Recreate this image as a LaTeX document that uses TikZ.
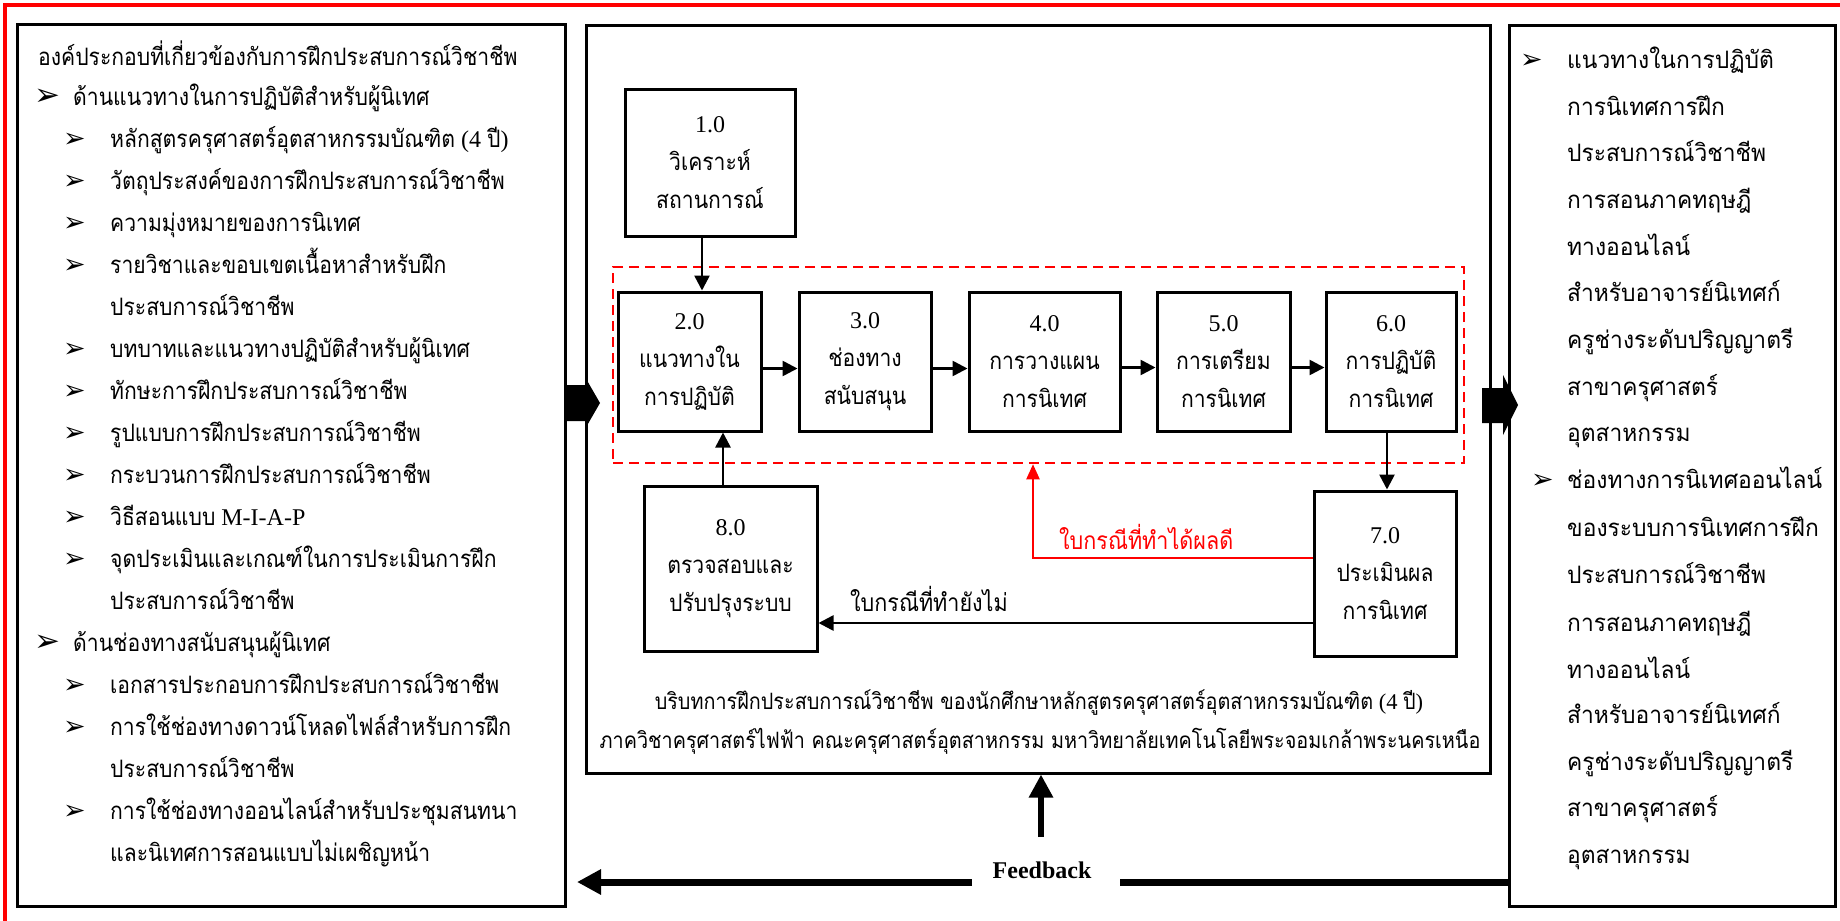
\documentclass[tikz,border=0pt]{standalone}
\usepackage{fontspec}
\setmainfont{Liberation Serif}
\newfontfamily\thaiS[Script=Thai,FakeStretch=0.88]{Loma}
\newfontfamily\thaiR[Script=Thai,FakeStretch=0.95]{Loma}
\newfontfamily\dingf{DejaVu Sans}
\newcommand\tht[1]{{\thaiS #1}}
\newcommand\thr[1]{{\thaiR #1}}
\usetikzlibrary{arrows.meta}
\tikzset{
  frame/.style={draw,line width=3pt,inner sep=0pt},
  proc/.style={draw,line width=3pt,inner sep=0pt,align=center,font=\fontsize{24}{38}\selectfont},
  ltext/.style={anchor=base west,inner sep=0pt,font=\fontsize{24}{24}\selectfont},
  rtext/.style={anchor=base west,inner sep=0pt,font=\fontsize{24}{24}\selectfont},
  bulA/.style={anchor=base west,inner sep=0pt,font=\dingf\fontsize{31}{31}\selectfont},
  bulB/.style={anchor=base west,inner sep=0pt,font=\dingf\fontsize{27}{27}\selectfont},
  captext/.style={anchor=base,inner sep=0pt,font=\fontsize{22.5}{22.5}\selectfont},
  arr/.style={line width=2.6pt,-{Triangle[length=15pt,width=15pt]}},
  redarr/.style={red,line width=2.2pt,-{Triangle[length=15pt,width=13pt]}},
  fbarr/.style={line width=7pt,-{Triangle[length=24pt,width=24pt]}},
  fbline/.style={line width=7pt},
  lbl/.style={anchor=base west,inner sep=0pt,font=\fontsize{24.5}{24.5}\selectfont},
}
\begin{document}
\begin{tikzpicture}[x=1pt,y=-1pt]
\useasboundingbox (0,0) rectangle (1840,921);
\draw[red,line width=3.5pt] (5,921) -- (5,5) -- (1840,5);

% main frames
\node[frame,minimum width=548pt,minimum height=882pt] (L) at (291,465) {};
\node[frame,minimum width=904pt,minimum height=748pt] (M) at (1038,399) {};
\node[frame,minimum width=326pt,minimum height=881pt] (R) at (1672,465.5) {};

% block arrows
\fill (565,385) -- (585,385) -- (585,377) -- (600,403) -- (585,429) -- (585,421) -- (565,421) -- cycle;
\fill (1482,388) -- (1503,388) -- (1503,375) -- (1518,405) -- (1503,435) -- (1503,423) -- (1482,423) -- cycle;

% left box text
\node[ltext] (t0) at (38,65) {\tht{องค์ประกอบที่เกี่ยวข้องกับการฝึกประสบการณ์วิชาชีพ}};
\node[bulA] (b1) at (34,105) {➢};
\node[ltext] (t1) at (73,105) {\tht{ด้านแนวทางในการปฏิบัติสำหรับผู้นิเทศ}};
\node[bulB] (b2) at (63,147) {➢};
\node[ltext] (t2) at (110,147) {\tht{หลักสูตรครุศาสตร์อุตสาหกรรมบัณฑิต} (4 \tht{ปี})};
\node[bulB] (b3) at (63,189) {➢};
\node[ltext] (t3) at (110,189) {\tht{วัตถุประสงค์ของการฝึกประสบการณ์วิชาชีพ}};
\node[bulB] (b4) at (63,231) {➢};
\node[ltext] (t4) at (110,231) {\tht{ความมุ่งหมายของการนิเทศ}};
\node[bulB] (b5) at (63,273) {➢};
\node[ltext] (t5) at (110,273) {\tht{รายวิชาและขอบเขตเนื้อหาสำหรับฝึก}};
\node[ltext] (t5b) at (110,315) {\tht{ประสบการณ์วิชาชีพ}};
\node[bulB] (b6) at (63,357) {➢};
\node[ltext] (t6) at (110,357) {\tht{บทบาทและแนวทางปฏิบัติสำหรับผู้นิเทศ}};
\node[bulB] (b7) at (63,399) {➢};
\node[ltext] (t7) at (110,399) {\tht{ทักษะการฝึกประสบการณ์วิชาชีพ}};
\node[bulB] (b8) at (63,441) {➢};
\node[ltext] (t8) at (110,441) {\tht{รูปแบบการฝึกประสบการณ์วิชาชีพ}};
\node[bulB] (b9) at (63,483) {➢};
\node[ltext] (t9) at (110,483) {\tht{กระบวนการฝึกประสบการณ์วิชาชีพ}};
\node[bulB] (b10) at (63,525) {➢};
\node[ltext] (t10) at (110,525) {\tht{วิธีสอนแบบ} M-I-A-P};
\node[bulB] (b11) at (63,567) {➢};
\node[ltext] (t11) at (110,567) {\tht{จุดประเมินและเกณฑ์ในการประเมินการฝึก}};
\node[ltext] (t11b) at (110,609) {\tht{ประสบการณ์วิชาชีพ}};
\node[bulA] (b12) at (34,651) {➢};
\node[ltext] (t12) at (73,651) {\tht{ด้านช่องทางสนับสนุนผู้นิเทศ}};
\node[bulB] (b13) at (63,693) {➢};
\node[ltext] (t13) at (110,693) {\tht{เอกสารประกอบการฝึกประสบการณ์วิชาชีพ}};
\node[bulB] (b14) at (63,735) {➢};
\node[ltext] (t14) at (110,735) {\tht{การใช้ช่องทางดาวน์โหลดไฟล์สำหรับการฝึก}};
\node[ltext] (t14b) at (110,777) {\tht{ประสบการณ์วิชาชีพ}};
\node[bulB] (b15) at (63,819) {➢};
\node[ltext] (t15) at (110,819) {\tht{การใช้ช่องทางออนไลน์สำหรับประชุมสนทนา}};
\node[ltext] (t15b) at (110,861) {\tht{และนิเทศการสอนแบบไม่เผชิญหน้า}};

% right box text
\node[bulB] (rb1) at (1520,68) {➢};
\node[rtext] (r1) at (1567,68) {\thr{แนวทางในการปฏิบัติ}};
\node[rtext] (r2) at (1567,115) {\thr{การนิเทศการฝึก}};
\node[rtext] (r3) at (1567,161) {\thr{ประสบการณ์วิชาชีพ}};
\node[rtext] (r4) at (1567,208) {\thr{การสอนภาคทฤษฎี}};
\node[rtext] (r5) at (1567,255) {\thr{ทางออนไลน์}};
\node[rtext] (r6) at (1567,301) {\thr{สำหรับอาจารย์นิเทศก์}};
\node[rtext] (r7) at (1567,348) {\thr{ครูช่างระดับปริญญาตรี}};
\node[rtext] (r8) at (1567,395) {\thr{สาขาครุศาสตร์}};
\node[rtext] (r9) at (1567,441) {\thr{อุตสาหกรรม}};
\node[bulB] (rb2) at (1531,488) {➢};
\node[rtext] (r10) at (1567,488) {\thr{ช่องทางการนิเทศออนไลน์}};
\node[rtext] (r11) at (1567,536) {\thr{ของระบบการนิเทศการฝึก}};
\node[rtext] (r12) at (1567,583) {\thr{ประสบการณ์วิชาชีพ}};
\node[rtext] (r13) at (1567,631) {\thr{การสอนภาคทฤษฎี}};
\node[rtext] (r14) at (1567,678) {\thr{ทางออนไลน์}};
\node[rtext] (r15) at (1567,723) {\thr{สำหรับอาจารย์นิเทศก์}};
\node[rtext] (r16) at (1567,770) {\thr{ครูช่างระดับปริญญาตรี}};
\node[rtext] (r17) at (1567,816) {\thr{สาขาครุศาสตร์}};
\node[rtext] (r18) at (1567,863) {\thr{อุตสาหกรรม}};

% dashed group
\node[draw=red,line width=2.5pt,dash pattern=on 10pt off 6pt,inner sep=0pt,
      minimum width=851pt,minimum height=196pt] (dz) at (1038.5,365) {};

% process boxes
\node[proc,minimum width=170pt,minimum height=147pt] (n1) at (710,162.5) {1.0\\\tht{วิเคราะห์}\\\tht{สถานการณ์}};
\node[proc,minimum width=143pt,minimum height=139pt] (n2) at (689.5,361.5) {2.0\\\tht{แนวทางใน}\\\tht{การปฏิบัติ}};
\node[proc,minimum width=132pt,minimum height=139pt] (n3) at (865,361.5) {3.0\\\tht{ช่องทาง}\\\tht{สนับสนุน}};
\node[proc,minimum width=151pt,minimum height=139pt] (n4) at (1044.5,361.5) {4.0\\\tht{การวางแผน}\\\tht{การนิเทศ}};
\node[proc,minimum width=133pt,minimum height=139pt] (n5) at (1223.5,361.5) {5.0\\\tht{การเตรียม}\\\tht{การนิเทศ}};
\node[proc,minimum width=130pt,minimum height=139pt] (n6) at (1391,361.5) {6.0\\\tht{การปฏิบัติ}\\\tht{การนิเทศ}};
\node[proc,minimum width=173pt,minimum height=165pt] (n8) at (730.5,568.5) {8.0\\\tht{ตรวจสอบและ}\\\tht{ปรับปรุงระบบ}};
\node[proc,minimum width=142pt,minimum height=165pt] (n7) at (1385,573.5) {7.0\\\tht{ประเมินผล}\\\tht{การนิเทศ}};

% connectors
\coordinate (c12) at (702,0);
\coordinate (c82) at (723,0);
\coordinate (c67) at (1387,0);
\draw[arr] (n1.south -| c12) -- (n2.north -| c12);
\draw[arr] (n8.north -| c82) -- (n2.south -| c82);
\draw[arr] ([yshift=-7pt]n2.east) -- ([yshift=-7pt]n3.west);
\draw[arr] ([yshift=-7pt]n3.east) -- ([yshift=-7pt]n4.west);
\draw[arr] ([yshift=-6pt]n4.east) -- ([yshift=-6pt]n5.west);
\draw[arr] ([yshift=-6pt]n5.east) -- ([yshift=-6pt]n6.west);
\draw[arr] (n6.south -| c67) -- (n7.north -| c67);
\coordinate (c78) at (0,623);
\draw[arr] (n7.west |- c78) -- (n8.east |- c78);
\coordinate (rc) at (1033,558);
\draw[redarr] (n7.west |- rc) -- (rc) -- (rc |- dz.south);

\node[lbl,red] (lg) at (1059,549) {\tht{ใบกรณีที่ทำได้ผลดี}};
\node[lbl] (lb) at (850,611) {\tht{ใบกรณีที่ทำยังไม่}};

% caption
\node[captext] (cap1) at (1039,709) {\tht{บริบทการฝึกประสบการณ์วิชาชีพ ของนักศึกษาหลักสูตรครุศาสตร์อุตสาหกรรมบัณฑิต} (4 \tht{ปี})};
\node[captext] (cap2) at (1040,748) {\tht{ภาควิชาครุศาสตร์ไฟฟ้า คณะครุศาสตร์อุตสาหกรรม มหาวิทยาลัยเทคโนโลยีพระจอมเกล้าพระนครเหนือ}};

% feedback
\node[inner sep=0pt,font=\bfseries\fontsize{24}{24}\selectfont] (fb) at (1042,870) {Feedback};
\coordinate (fu) at (1041,837);
\draw[line width=6pt,-{Triangle[length=23pt,width=23pt]}] (fu) -- (fu |- M.south);
\coordinate (fr) at (1120,882);
\coordinate (fl) at (972,882);
\coordinate (fe) at (577,882);
\draw[fbline] (fr -| R.west) -- (fr);
\draw[fbarr] (fl) -- (fe);
\end{tikzpicture}
\end{document}
